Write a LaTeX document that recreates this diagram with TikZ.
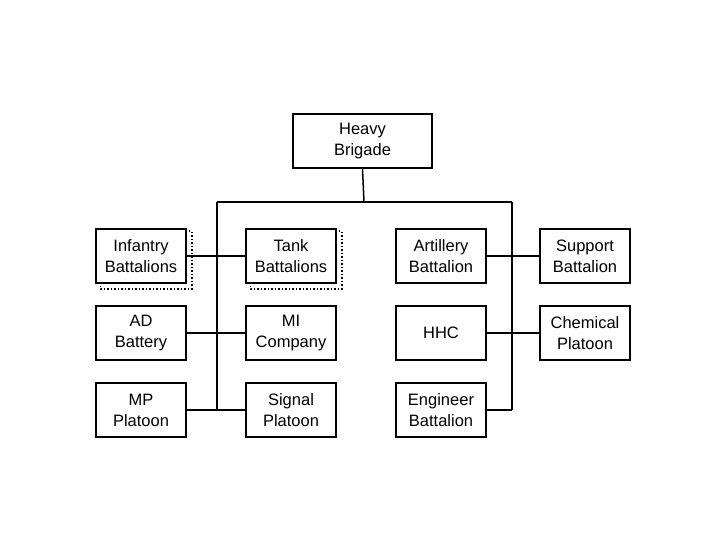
\documentclass[tikz,border=0pt]{standalone}
\usepackage{fontspec}
\setmainfont{Liberation Sans}
\begin{document}
\begin{tikzpicture}[x=1pt,y=-1pt,
  unit/.style={draw,line width=1.5pt,minimum width=90pt,minimum height=54pt,align=center,inner sep=0pt,font=\fontsize{16.5}{21}\selectfont},
  shadowline/.style={dotted,line width=1.5pt},
  conn/.style={line width=1.5pt}]
\useasboundingbox (0,0) rectangle (720,540);
\node[unit,minimum width=139pt] (hb) at (362.5,141) {Heavy\\Brigade};
\node[unit] (inf) at (141,256) {Infantry\\Battalions};
\node[unit] (tank) at (291,256) {Tank\\Battalions};
\node[unit] (art) at (441,256) {Artillery\\Battalion};
\node[unit] (sup) at (585,256) {Support\\Battalion};
\node[unit] (ad) at (141,333) {AD\\Battery};
\node[unit] (mi) at (291,333) {MI\\Company};
\node[unit] (hhc) at (441,333) {HHC};
\node[unit] (chem) at (585,333) {Chemical\\Platoon};
\node[unit] (mp) at (141,410) {MP\\Platoon};
\node[unit] (sig) at (291,410) {Signal\\Platoon};
\node[unit] (eng) at (441,410) {Engineer\\Battalion};
\draw[shadowline] ([xshift=2pt]inf.north east) ++(0,3) -| ([xshift=5pt,yshift=-5pt]inf.south east) -| ([xshift=5pt,yshift=-2pt]inf.south west);
\draw[shadowline] ([xshift=2pt]tank.north east) ++(0,3) -| ([xshift=5pt,yshift=-5pt]tank.south east) -| ([xshift=5pt,yshift=-2pt]tank.south west);
\coordinate (b) at (364,202);
\coordinate (lt) at (217,202);
\coordinate (rt) at (512,202);
\coordinate (lb) at (217,410);
\coordinate (rb) at (512,410);
\draw[conn] (hb.south) -- (b);
\draw[conn] (lt) -- (rt);
\draw[conn] (lt) -- (lb);
\draw[conn] (rt) -- (rb);
\draw[conn] (inf) -- (tank);
\draw[conn] (ad) -- (mi);
\draw[conn] (mp) -- (sig);
\draw[conn] (art) -- (sup);
\draw[conn] (hhc) -- (chem);
\draw[conn] (eng.east) -- (rb);
\end{tikzpicture}
\end{document}
